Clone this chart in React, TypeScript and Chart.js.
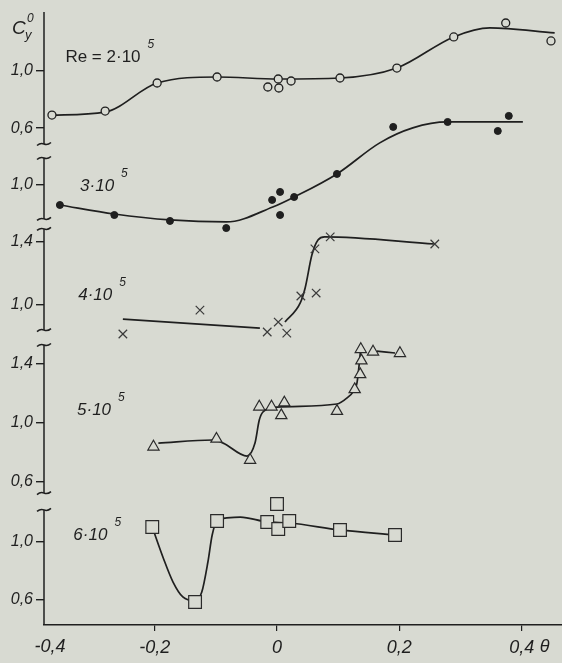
import React, { useEffect, useRef } from 'react';
import { Chart, registerables } from 'chart.js';

Chart.register(...registerables);

const PAPER = '#d8dad2';
const INK = '#1f1f1f';
const FONT = '"Liberation Sans", "DejaVu Sans", sans-serif';

// θ axis
const thetaMin = -0.381;
const thetaMax = 0.466;
const thetaTicks = [-0.4, -0.2, 0, 0.2, 0.4];

// Re = 2·10^5 — open circles and faired curve
const re2PointTheta = [-0.368, -0.281, -0.196, -0.098, -0.015, 0.003, 0.002, 0.023, 0.103, 0.196, 0.289, 0.374, 0.448];
const re2PointCy = [0.691, 0.719, 0.916, 0.958, 0.888, 0.881, 0.944, 0.93, 0.951, 1.021, 1.239, 1.337, 1.211];
const re2CurveTheta = [-0.368, -0.281, -0.196, -0.098, 0.002, 0.103, 0.196, 0.289, 0.348, 0.454];
const re2CurveCy = [0.691, 0.712, 0.916, 0.958, 0.944, 0.951, 1.021, 1.239, 1.302, 1.267];

// Re = 3·10^5 — filled dots
const re3PointTheta = [-0.355, -0.266, -0.175, -0.083, -0.008, 0.005, 0.005, 0.028, 0.098, 0.19, 0.279, 0.361, 0.379];
const re3PointCy = [0.862, 0.793, 0.752, 0.703, 0.897, 0.952, 0.793, 0.917, 1.076, 1.4, 1.434, 1.372, 1.476];
const re3CurveTheta = [-0.355, -0.266, -0.175, -0.083, -0.007, 0.028, 0.098, 0.168, 0.222, 0.279, 0.402];
const re3CurveCy = [0.862, 0.8, 0.759, 0.745, 0.848, 0.917, 1.076, 1.29, 1.393, 1.434, 1.434];

// Re = 4·10^5 — crosses
const re4PointTheta = [-0.252, -0.126, -0.016, 0.002, 0.016, 0.039, 0.064, 0.062, 0.087, 0.258];
const re4PointCy = [0.816, 0.968, 0.829, 0.892, 0.822, 1.057, 1.076, 1.356, 1.432, 1.387];
const re4CurveATheta = [-0.252, -0.028];
const re4CurveACy = [0.911, 0.854];
const re4CurveBTheta = [0.013, 0.038, 0.046, 0.057, 0.067, 0.078, 0.258];
const re4CurveBCy = [0.892, 1.013, 1.108, 1.317, 1.413, 1.432, 1.387];

// Re = 5·10^5 — triangles
const re5PointTheta = [-0.202, -0.099, -0.044, -0.029, -0.009, 0.012, 0.007, 0.098, 0.127, 0.136, 0.138, 0.137, 0.157, 0.201];
const re5PointCy = [0.839, 0.892, 0.749, 1.11, 1.11, 1.138, 1.052, 1.081, 1.228, 1.33, 1.423, 1.5, 1.483, 1.473];
const re5CurveATheta = [-0.194, -0.105, -0.088, -0.049, -0.036, -0.029, -0.023, 0.0, 0.098, 0.116, 0.124, 0.131, 0.137];
const re5CurveACy = [0.864, 0.885, 0.864, 0.776, 0.864, 1.02, 1.075, 1.108, 1.129, 1.176, 1.21, 1.278, 1.508];
const re5CurveBTheta = [0.163, 0.193];
const re5CurveBCy = [1.488, 1.475];

// Re = 6·10^5 — squares
const re6PointTheta = [-0.204, -0.134, -0.098, -0.016, 0.0, 0.002, 0.02, 0.103, 0.193];
const re6PointCy = [1.103, 0.586, 1.145, 1.138, 1.262, 1.09, 1.145, 1.083, 1.048];
const re6CurveTheta = [-0.204, -0.186, -0.17, -0.154, -0.134, -0.123, -0.113, -0.106, -0.098, -0.082, -0.06, -0.016, 0.02, 0.103, 0.193];
const re6CurveCy = [1.103, 0.89, 0.724, 0.621, 0.595, 0.655, 0.862, 1.048, 1.145, 1.166, 1.172, 1.138, 1.131, 1.083, 1.048];

// stacked c_y panels, top to bottom
const panelIds = ['cy1', 'cy2', 'cy3', 'cy4', 'cy5'];
const panelMin = [0.439, 0.731, 0.794, 0.468, 0.428];
const panelMax = [1.414, 1.234, 1.514, 1.58, 1.279];
const panelWeight = [139, 73, 113.5, 164, 123.5];
const panelTicks = [[0.6, 1.0], [1.0], [1.0, 1.4], [0.6, 1.0, 1.4], [0.6, 1.0]];
const axisSegTop = [1.414, 1.186, 1.483, 1.529, 1.221];
const axisSegBottom = [0.488, 0.766, 0.841, 0.525, 0.428];
const panelLabels = ['Re = 2·10', '3·10', '4·10', '5·10', '6·10'];
const labelTheta = [-0.346, -0.322, -0.325, -0.327, -0.333];
const labelCy = [1.098, 0.993, 1.063, 1.088, 1.048];

const fmt = (v: number) => (v === 0 ? '0' : v.toFixed(1).replace('.', ','));
const zip = (xs: number[], ys: number[]) => xs.map((x, i) => ({ x, y: ys[i] }));

const curve = (xs: number[], ys: number[], axis: string) => ({
  type: 'line' as const,
  data: zip(xs, ys),
  yAxisID: axis,
  borderColor: INK,
  borderWidth: 1.7,
  pointRadius: 0,
  cubicInterpolationMode: 'monotone' as const,
  fill: false,
  clip: false,
  order: 1,
});

const marks = (xs: number[], ys: number[], axis: string, style: Record<string, unknown>) => ({
  type: 'line' as const,
  data: zip(xs, ys),
  yAxisID: axis,
  showLine: false,
  clip: false,
  order: 0,
  ...style,
});

const paperAndAxes = {
  id: 'paperAndAxes',
  beforeDraw(chart: Chart) {
    const { ctx, width, height } = chart;
    ctx.save();
    ctx.fillStyle = PAPER;
    ctx.fillRect(0, 0, width, height);
    ctx.restore();
  },
  afterDraw(chart: Chart) {
    const { ctx, chartArea } = chart;
    const xl = chartArea.left;
    const last = panelIds.length - 1;
    const xs = chart.scales.x;
    ctx.save();
    ctx.strokeStyle = INK;
    ctx.lineWidth = 1.5;
    const breakMark = (y: number) => {
      ctx.beginPath();
      ctx.moveTo(xl - 7, y + 1.5);
      ctx.quadraticCurveTo(xl - 3.5, y - 1.5, xl, y);
      ctx.quadraticCurveTo(xl + 3.5, y + 1.5, xl + 7, y - 1.5);
      ctx.stroke();
    };
    panelIds.forEach((id, i) => {
      const s = chart.scales[id];
      const top = s.getPixelForValue(axisSegTop[i]);
      const bot = i === last ? chartArea.bottom : s.getPixelForValue(axisSegBottom[i]);
      ctx.beginPath();
      ctx.moveTo(xl, top);
      ctx.lineTo(xl, bot);
      ctx.stroke();
      if (i > 0) breakMark(top);
      if (i < last) breakMark(bot);
    });

    // panel captions
    ctx.fillStyle = INK;
    ctx.textBaseline = 'middle';
    ctx.textAlign = 'left';
    panelIds.forEach((id, i) => {
      const x = xs.getPixelForValue(labelTheta[i]);
      const y = chart.scales[id].getPixelForValue(labelCy[i]);
      ctx.font = `${i === 0 ? '' : 'italic '}17px ${FONT}`;
      ctx.fillText(panelLabels[i], x, y);
      const w = ctx.measureText(panelLabels[i]).width;
      ctx.font = `italic 12px ${FONT}`;
      ctx.fillText('5', x + w + 7, y - 12);
    });

    // first θ label sits at the axis corner
    ctx.font = `italic 18px ${FONT}`;
    ctx.textAlign = 'center';
    ctx.fillText(fmt(thetaTicks[0]), xl + 6, chartArea.bottom + 22);
    ctx.textAlign = 'left';

    // axis names
    ctx.textBaseline = 'alphabetic';
    ctx.font = `italic 19px ${FONT}`;
    ctx.fillText('C', xl - 32, chartArea.top + 22);
    ctx.font = `italic 13px ${FONT}`;
    ctx.fillText('y', xl - 19, chartArea.top + 27);
    ctx.font = `italic 12px ${FONT}`;
    ctx.fillText('0', xl - 17, chartArea.top + 10);
    ctx.font = `italic 18px ${FONT}`;
    ctx.textBaseline = 'middle';
    ctx.fillText('θ', xs.getPixelForValue(0.4) + 18, chartArea.bottom + 22);
    ctx.restore();
  },
};

export default function App() {
  const ref = useRef<HTMLCanvasElement | null>(null);

  useEffect(() => {
    if (!ref.current) return;

    const yScales: Record<string, unknown> = {};
    panelIds.forEach((id, i) => {
      yScales[id] = {
        type: 'linear',
        position: 'left',
        stack: 'cy',
        stackWeight: panelWeight[i],
        weight: panelIds.length - i,
        min: panelMin[i],
        max: panelMax[i],
        border: { display: false },
        grid: { drawOnChartArea: false, drawTicks: true, tickLength: 8, color: INK, lineWidth: 1.4 },
        ticks: {
          padding: 3,
          color: INK,
          font: { family: FONT, size: 16, style: 'italic' },
          callback: (v: number) => fmt(v),
        },
        afterBuildTicks: (s: any) => {
          s.ticks = panelTicks[i].map((v) => ({ value: v }));
        },
        afterFit: (s: any) => {
          s.width = 44;
          s.paddingTop = 0;
          s.paddingBottom = 0;
        },
      };
    });

    const chart = new Chart(ref.current, {
      type: 'line',
      data: {
        datasets: [
          marks(re2PointTheta, re2PointCy, 'cy1', { pointStyle: 'circle', pointRadius: 4, pointBorderWidth: 1.3, pointBackgroundColor: PAPER, pointBorderColor: INK }),
          marks(re3PointTheta, re3PointCy, 'cy2', { pointStyle: 'circle', pointRadius: 3.5, pointBorderWidth: 1, pointBackgroundColor: INK, pointBorderColor: INK }),
          marks(re4PointTheta, re4PointCy, 'cy3', { pointStyle: 'crossRot', pointRadius: 6, pointBorderWidth: 1.2, pointBorderColor: '#3a3a3a' }),
          marks(re5PointTheta, re5PointCy, 'cy4', { pointStyle: 'triangle', pointRadius: 6.5, pointBorderWidth: 1.2, pointBackgroundColor: PAPER, pointBorderColor: '#2a2a2a' }),
          marks(re6PointTheta, re6PointCy, 'cy5', { pointStyle: 'rect', pointRadius: 9, pointBorderWidth: 1.2, pointBackgroundColor: PAPER, pointBorderColor: '#2a2a2a' }),
          curve(re2CurveTheta, re2CurveCy, 'cy1'),
          curve(re3CurveTheta, re3CurveCy, 'cy2'),
          curve(re4CurveATheta, re4CurveACy, 'cy3'),
          curve(re4CurveBTheta, re4CurveBCy, 'cy3'),
          curve(re5CurveATheta, re5CurveACy, 'cy4'),
          curve(re5CurveBTheta, re5CurveBCy, 'cy4'),
          curve(re6CurveTheta, re6CurveCy, 'cy5'),
        ] as any,
      },
      options: {
        responsive: false,
        animation: false,
        events: [],
        layout: { autoPadding: false, padding: { top: 12, left: 0, right: 0, bottom: 0 } },
        plugins: { legend: { display: false }, tooltip: { enabled: false } },
        scales: {
          x: {
            type: 'linear',
            min: thetaMin,
            max: thetaMax,
            border: { display: true, color: INK, width: 1.6 },
            grid: {
              drawOnChartArea: false,
              tickLength: 6,
              lineWidth: 1.2,
              color: (c: any) => (c.tick && c.tick.value < thetaMin ? 'rgba(0,0,0,0)' : INK),
            },
            ticks: {
              padding: 6,
              color: INK,
              maxRotation: 0,
              autoSkip: false,
              font: { family: FONT, size: 18, style: 'italic' },
              // the out-of-range corner label is drawn by the plugin
              callback: (v: number) => (v < thetaMin ? '' : fmt(v)),
            },
            afterBuildTicks: (s: any) => {
              s.ticks = thetaTicks.map((v) => ({ value: v }));
            },
            afterFit: (s: any) => {
              s.height = 38;
              s.paddingLeft = 0;
              s.paddingRight = 0;
            },
          },
          ...(yScales as any),
        },
      },
      plugins: [paperAndAxes],
    });

    return () => chart.destroy();
  }, []);

  return (
    <div style={{ position: 'fixed', left: 0, top: 0, width: 562, height: 663, background: PAPER }}>
      <canvas ref={ref} width={562} height={663} style={{ display: 'block', width: 562, height: 663 }} />
    </div>
  );
}
